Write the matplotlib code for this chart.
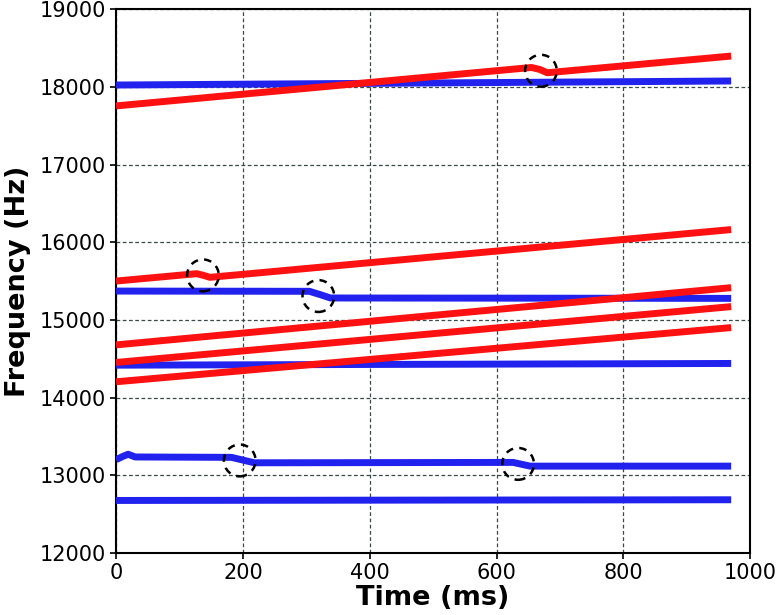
import matplotlib
matplotlib.use("Agg")
import matplotlib.pyplot as plt
from matplotlib.patches import Ellipse

# Red (rising) tracks: breakpoints (ms, Hz)
red1_t = [0, 655, 668, 680, 970]
red1_f = [17755, 18250, 18225, 18182, 18397]
red2_t = [0, 127, 137, 148, 970]
red2_f = [15500, 15595, 15575, 15548, 16163]
red3_t = [0, 970]
red3_f = [14678, 15415]
red4_t = [0, 970]
red4_f = [14452, 15171]
red5_t = [0, 970]
red5_f = [14203, 14901]

# Blue (flat) tracks
blue1_t = [0, 970]
blue1_f = [18024, 18076]
blue2_t = [0, 305, 322, 338, 970]
blue2_f = [15371, 15368, 15325, 15282, 15277]
blue3_t = [0, 970]
blue3_f = [14417, 14439]
blue4_t = [0, 10, 19, 30, 182, 200, 218, 626, 640, 653, 970]
blue4_f = [13200, 13240, 13270, 13235, 13230, 13195, 13160, 13165, 13140, 13117, 13117]
blue5_t = [0, 970]
blue5_f = [12675, 12684]

# Dashed circle markers (ms, Hz)
circle_t = [670, 137, 319, 195, 634]
circle_f = [18208, 15573, 15307, 13190, 13146]

red_tracks = [(red1_t, red1_f), (red2_t, red2_f), (red3_t, red3_f),
              (red4_t, red4_f), (red5_t, red5_f)]
blue_tracks = [(blue1_t, blue1_f), (blue2_t, blue2_f), (blue3_t, blue3_f),
               (blue4_t, blue4_f), (blue5_t, blue5_f)]

fig = plt.figure(figsize=(7.79, 6.15), dpi=100)
ax = fig.add_axes([0.149, 0.101, 0.814, 0.884])

for t, f in blue_tracks:
    ax.plot(t, f, color="#2222ee", lw=5, solid_capstyle="butt",
            solid_joinstyle="round", zorder=3)
for t, f in red_tracks:
    ax.plot(t, f, color="#ff1111", lw=5, solid_capstyle="butt",
            solid_joinstyle="round", zorder=4)

for t, f in zip(circle_t, circle_f):
    ax.add_patch(Ellipse((t, f), width=50, height=410, fill=False,
                         edgecolor="black", lw=1.8, ls=(0, (3, 2.5)), zorder=5))

ax.set_xlim(0, 1000)
ax.set_ylim(12000, 19000)
ax.set_xticks([0, 200, 400, 600, 800, 1000])
ax.set_yticks(list(range(12000, 19001, 1000)))
ax.grid(True, color="#3a4a4a", ls=(0, (3, 2)), lw=0.9)
ax.tick_params(labelsize=15, direction="out", length=4, width=1.2)
for s in ax.spines.values():
    s.set_linewidth(1.5)
ax.set_xlabel("Time (ms)", fontsize=19.5, fontweight="bold", labelpad=1)
ax.set_ylabel("Frequency (Hz)", fontsize=19.5, fontweight="bold", labelpad=6)

fig.savefig("out.png", dpi=100)
